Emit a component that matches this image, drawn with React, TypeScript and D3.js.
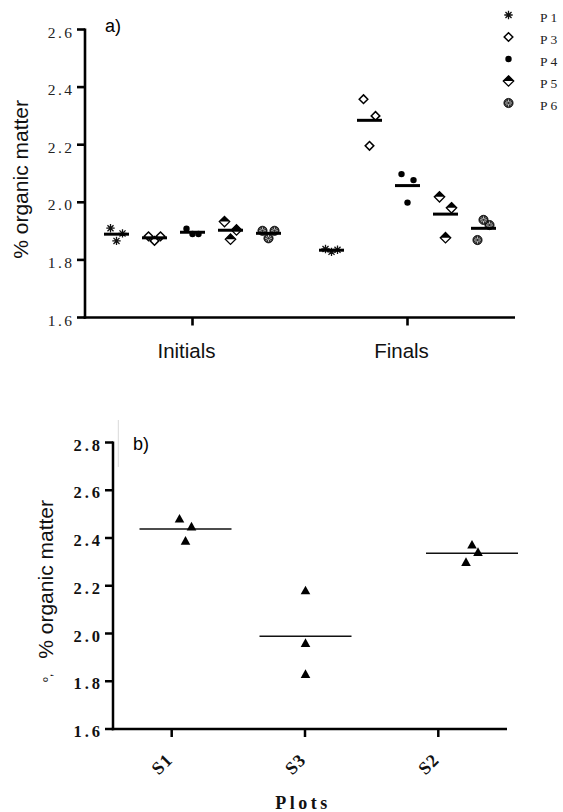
import React from "react";
import * as d3 from "d3";

// ---------- Data ----------
const GROUPS = ["Initials", "Finals"];
const PLOTS_A = ["P 1", "P 3", "P 4", "P 5", "P 6"];
const INITIALS = [
  [1.91, 1.892, 1.866], // P 1
  [1.882, 1.882, 1.866], // P 3
  [1.908, 1.89, 1.89], // P 4
  [1.933, 1.904, 1.872], // P 5
  [1.901, 1.901, 1.875], // P 6
];
const FINALS = [
  [1.838, 1.835, 1.828], // P 1
  [2.358, 2.3, 2.196], // P 3
  [2.098, 2.077, 1.999], // P 4
  [2.019, 1.981, 1.877], // P 5
  [1.869, 1.921, 1.939], // P 6
];
const Y_TICKS_A = [1.6, 1.8, 2.0, 2.2, 2.4, 2.6];

const PLOTS_B = ["S1", "S3", "S2"];
const S1 = [2.48, 2.447, 2.387];
const S3 = [2.179, 1.959, 1.829];
const S2 = [2.298, 2.34, 2.371];
const VALUES_B = [S1, S3, S2];
const Y_TICKS_B = [1.6, 1.8, 2.0, 2.2, 2.4, 2.6, 2.8];

// ---------- Layout ----------
const W = 563;
const H = 812;
const SANS = "'Liberation Sans', Arial, sans-serif";
const SERIF = "'Liberation Serif', 'Times New Roman', serif";
const JITTER = [-6, 6, 0];
const fmt = d3.format(".1f");

type Kind = "asterisk" | "diamond" | "dot" | "half" | "flower";
const KINDS: Kind[] = ["asterisk", "diamond", "dot", "half", "flower"];

function Marker({ kind, x, y }: { kind: Kind; x: number; y: number }) {
  if (kind === "asterisk") {
    const r = 4.2;
    const d2 = r * 0.72;
    return (
      <path
        d={`M${x - r},${y}L${x + r},${y}M${x},${y - r}L${x},${y + r}M${x - d2},${y - d2}L${x + d2},${y + d2}M${x - d2},${y + d2}L${x + d2},${y - d2}`}
        stroke="#111"
        strokeWidth={1.3}
        fill="none"
      />
    );
  }
  if (kind === "diamond") {
    const r = 4.3;
    return (
      <path
        d={`M${x},${y - r}L${x + r},${y}L${x},${y + r}L${x - r},${y}Z`}
        fill="#fff"
        stroke="#000"
        strokeWidth={1.5}
      />
    );
  }
  if (kind === "dot") {
    return <circle cx={x} cy={y} r={3.2} fill="#000" />;
  }
  if (kind === "half") {
    const r = 5.2;
    return (
      <g>
        <path
          d={`M${x},${y - r}L${x + r},${y}L${x},${y + r}L${x - r},${y}Z`}
          fill="#fff"
          stroke="#000"
          strokeWidth={1.3}
        />
        <path d={`M${x - r},${y}L${x},${y - r}L${x + r},${y}Z`} fill="#000" />
      </g>
    );
  }
  // flower
  const r = 4.6;
  const s = r * 0.75;
  const s2 = s * 0.7;
  return (
    <g>
      <circle cx={x} cy={y} r={r} fill="#2e2e2e" stroke="#000" strokeWidth={0.8} />
      <path
        d={`M${x - s},${y}L${x + s},${y}M${x},${y - s}L${x},${y + s}M${x - s2},${y - s2}L${x + s2},${y + s2}M${x - s2},${y + s2}L${x + s2},${y - s2}`}
        stroke="#fff"
        strokeWidth={0.7}
      />
      <circle cx={x} cy={y} r={1.2} fill="#2e2e2e" />
    </g>
  );
}

function Triangle({ x, y }: { x: number; y: number }) {
  return <path d={`M${x},${y - 5}L${x + 4.8},${y + 3.6}L${x - 4.8},${y + 3.6}Z`} fill="#000" />;
}

export default function App() {
  // ---------- Panel a ----------
  const aLeft = 85;
  const aRight = 515;
  const yA = d3.scaleLinear().domain([1.6, 2.6]).range([317.5, 29.5]);
  const xA = d3.scaleBand<string>().domain(GROUPS).range([aLeft, aRight]);
  const subA = (g: string) =>
    d3
      .scalePoint<string>()
      .domain(PLOTS_A)
      .range([xA(g)! + xA.bandwidth() / 2 - 76, xA(g)! + xA.bandwidth() / 2 + 76]);
  const groupData: Record<string, number[][]> = { Initials: INITIALS, Finals: FINALS };

  // ---------- Panel b ----------
  const bLeft = 113;
  const bRight = 507;
  const yB = d3.scaleLinear().domain([1.6, 2.8]).range([729, 442.5]);
  const xBTicks = d3.scalePoint<string>().domain(PLOTS_B).range([171.7, 438.3]);
  const xBData = d3.scaleOrdinal<string, number>().domain(PLOTS_B).range([185.5, 305.5, 472]);

  const jitterB = (vals: number[], i: number) => {
    const py = yB(vals[i]);
    const crowded = vals.some((v, j) => j !== i && Math.abs(yB(v) - py) < 12);
    return crowded ? JITTER[i % 3] : 0;
  };

  return (
    <svg
      width={W}
      height={H}
      viewBox={`0 0 ${W} ${H}`}
      style={{ position: "absolute", left: 0, top: 0, display: "block", background: "#fff" }}
    >
      <rect width={W} height={H} fill="#fff" />

      {/* ================= Panel a ================= */}
      <text x={105} y={32} fontFamily={SANS} fontSize={18} fill="#000">
        a)
      </text>

      {/* y axis */}
      <line x1={aLeft} x2={aLeft} y1={yA(2.6) - 1} y2={yA(1.6) + 1.25} stroke="#000" strokeWidth={2.6} />
      {Y_TICKS_A.map((t) => (
        <g key={`ya${t}`}>
          <line x1={aLeft - 8} x2={aLeft} y1={yA(t)} y2={yA(t)} stroke="#000" strokeWidth={2.6} />
          <text
            x={74.5}
            y={yA(t) + 8}
            textAnchor="end"
            fontFamily={SERIF}
            fontSize={15.5}
            letterSpacing={2.5}
            fill="#222"
          >
            {fmt(t)}
          </text>
        </g>
      ))}
      {/* x axis */}
      <line x1={aLeft - 1.3} x2={aRight} y1={yA(1.6)} y2={yA(1.6)} stroke="#000" strokeWidth={2.6} />
      {GROUPS.map((g) => {
        const cx = xA(g)! + xA.bandwidth() / 2;
        return (
          <g key={`xa${g}`}>
            <line x1={cx} x2={cx} y1={yA(1.6)} y2={yA(1.6) + 8} stroke="#000" strokeWidth={2.6} />
            <text x={cx - 6} y={358} textAnchor="middle" fontFamily={SANS} fontSize={20.5} fill="#111">
              {g}
            </text>
          </g>
        );
      })}
      <text
        transform={`translate(28,100) rotate(-90)`}
        textAnchor="end"
        fontFamily={SANS}
        fontSize={21}
        fill="#111"
      >
        % organic matter
      </text>

      {/* points + means */}
      {GROUPS.map((g) => {
        const sub = subA(g);
        return groupData[g].map((vals, pi) => {
          const cx = sub(PLOTS_A[pi])!;
          const m = d3.mean(vals)!;
          return (
            <g key={`pa${g}${pi}`}>
              {vals.map((v, i) => (
                <Marker key={i} kind={KINDS[pi]} x={cx + JITTER[i % 3]} y={yA(v)} />
              ))}
              <line x1={cx - 12.5} x2={cx + 12.5} y1={yA(m)} y2={yA(m)} stroke="#000" strokeWidth={3} />
            </g>
          );
        });
      })}

      {/* legend */}
      {PLOTS_A.map((p, i) => {
        const ly = 15 + i * 22;
        return (
          <g key={`lg${p}`}>
            <Marker kind={KINDS[i]} x={508.5} y={ly} />
            <text x={540} y={ly + 6.5} fontFamily={SERIF} fontSize={13.5} fill="#222">
              {p}
            </text>
          </g>
        );
      })}

      {/* ================= Panel b ================= */}
      <line x1={118.3} x2={118.3} y1={420} y2={467} stroke="#d9d9d9" strokeWidth={1} />
      <text x={133} y={450} fontFamily={SANS} fontSize={18} fill="#000">
        b)
      </text>

      <line x1={bLeft} x2={bLeft} y1={yB(2.8) - 1} y2={yB(1.6) + 1.25} stroke="#000" strokeWidth={2.5} />
      {Y_TICKS_B.map((t) => (
        <g key={`yb${t}`}>
          <line x1={bLeft - 8} x2={bLeft} y1={yB(t)} y2={yB(t)} stroke="#000" strokeWidth={2.5} />
          <text
            x={103}
            y={yB(t) + 8}
            textAnchor="end"
            fontFamily={SERIF}
            fontWeight="bold"
            fontSize={16.5}
            letterSpacing={3}
            fill="#111"
          >
            {fmt(t)}
          </text>
        </g>
      ))}
      <line x1={bLeft - 1.3} x2={bRight} y1={yB(1.6)} y2={yB(1.6)} stroke="#000" strokeWidth={2.5} />
      {PLOTS_B.map((p) => {
        const tx = xBTicks(p)!;
        return (
          <g key={`xb${p}`}>
            <line x1={tx} x2={tx} y1={yB(1.6)} y2={yB(1.6) + 8} stroke="#000" strokeWidth={2.5} />
            <text
              transform={`translate(${tx + 2},761) rotate(-45)`}
              textAnchor="end"
              fontFamily={SERIF}
              fontWeight="bold"
              fontSize={18}
              letterSpacing={1}
              fill="#111"
            >
              {p}
            </text>
          </g>
        );
      })}
      <text
        x={303}
        y={809}
        textAnchor="middle"
        fontFamily={SERIF}
        fontWeight="bold"
        fontSize={18}
        letterSpacing={3.5}
        fill="#111"
      >
        Plots
      </text>
      <text
        transform={`translate(53,500) rotate(-90)`}
        textAnchor="end"
        fontFamily={SANS}
        fontSize={21}
        fill="#111"
      >
        % organic matter
      </text>
      <text
        transform={`translate(52,682) rotate(-90)`}
        textAnchor="start"
        fontFamily={SANS}
        fontSize={13}
        fill="#111"
      >
        º,
      </text>

      {PLOTS_B.map((p, pi) => {
        const cx = xBData(p);
        const vals = VALUES_B[pi];
        const m = d3.mean(vals)!;
        return (
          <g key={`pb${p}`}>
            <line x1={cx - 46} x2={cx + 46} y1={yB(m)} y2={yB(m)} stroke="#111" strokeWidth={1.5} />
            {vals.map((v, i) => (
              <Triangle key={i} x={cx + jitterB(vals, i)} y={yB(v)} />
            ))}
          </g>
        );
      })}
    </svg>
  );
}
